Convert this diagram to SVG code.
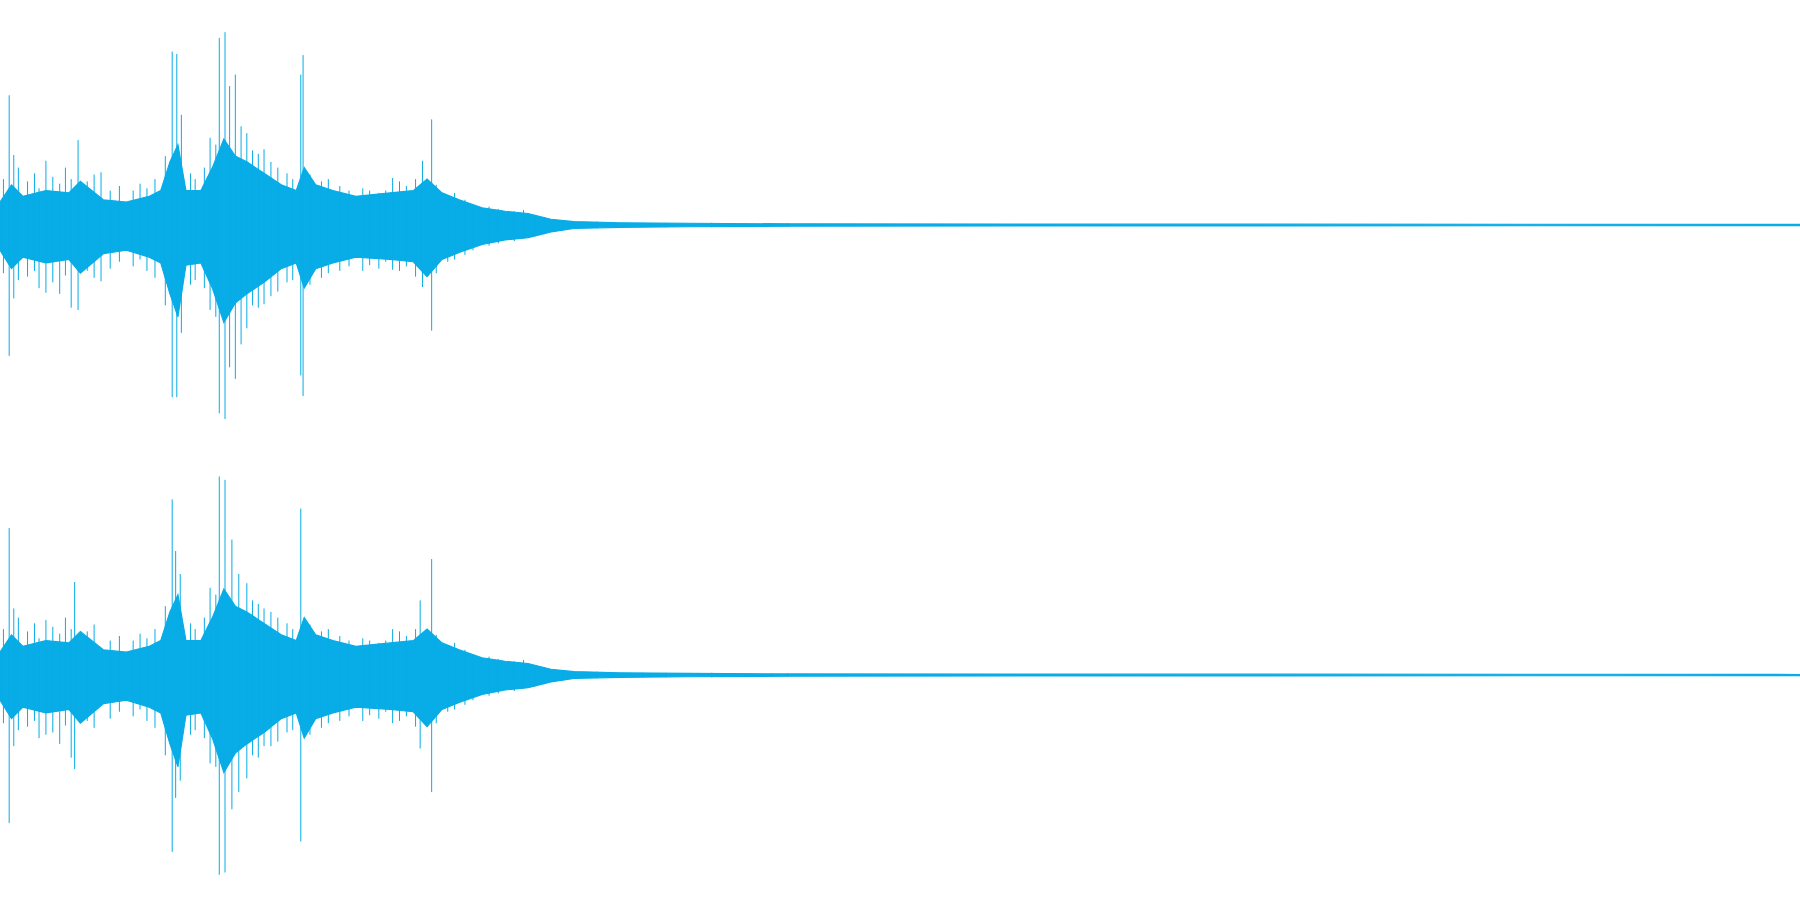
<svg xmlns="http://www.w3.org/2000/svg" width="1800" height="900" viewBox="0 0 1800 900">
<style>
.env{fill:#08ace6;stroke:#08ace6;stroke-width:1;vector-effect:non-scaling-stroke}
.sp{fill:none;stroke:#08ace6;stroke-width:1;vector-effect:non-scaling-stroke}
</style>
<defs>
<path id="env" d="M0,-20 L10,-35 20,-25 40,-30 60,-28 70,-38 90,-22 110,-20 130,-25 140,-30 148,-55 155,-70 162,-30 175,-30 185,-50 195,-75 205,-60 215,-55 230,-45 245,-35 258,-30 265,-50 275,-35 290,-30 310,-25 340,-28 360,-30 372,-40 385,-28 400,-22 420,-15 440,-12 460,-10 480,-5 500,-3 540,-2 600,-1.5 690,-1 1568,-0.5 L1568,0.5 690,1 600,1.5 540,2 500,3 480,6 460,11 440,13 420,17 400,24 385,30 372,45 360,32 340,30 310,28 290,33 275,38 265,55 258,33 245,38 230,50 215,60 205,68 195,85 185,55 175,33 162,35 155,80 148,60 140,33 130,28 110,22 90,25 70,42 60,30 40,33 20,28 10,38 0,22 Z"/>
<path id="tex" class="sp" d="M3,-40V42 M16,-50V48 M24,-38V45 M30,-45V40 M34,-32V55 M46,-42V50 M52,-36V60 M57,-50V44 M62,-40V72 M76,-38V40 M82,-44V46 M96,-30V38 M104,-34V32 M116,-30V36 M122,-36V30 M128,-32V40 M135,-40V46 M144,-60V70 M166,-45V52 M170,-40V48 M178,-50V55 M188,-70V80 M215,-80V90 M220,-65V70 M225,-62V72 M236,-55V62 M242,-50V58 M250,-45V50 M255,-40V48 M270,-44V52 M280,-38V46 M286,-40V42 M296,-34V40 M304,-30V36 M316,-32V40 M322,-30V35 M330,-28V38 M336,-30V32 M348,-38V40 M354,-34V36 M362,-40V45 M380,-35V42 M390,-26V32 M396,-28V30 M405,-22V26 M412,-18V22 M426,-16V18 M434,-14V16 M448,-12V14 M456,-13V12 M466,-8V10 M474,-7V8 M490,-4V5 M520,-3V3 M560,-2V2 M580,-2V2 M620,-2V2 M650,-1.5V1.5 M672,-1.5V1.5 M686,-1.5V1.5"/>
</defs>
<g transform="scale(1.148)">
<use href="#env" class="env" transform="translate(0,196)"/>
<use href="#tex" transform="translate(0,196)"/>
<path class="sp" d="M8,83V310 M150,45V346 M154,47V346 M191,33V360 M196,28V365 M205,65V330 M262,65V327 M264,48V345 M376,104V288 M68,122V270 M40,140V255 M88,150V245 M183,120V270 M200,75V320 M230,130V265 M342,155V235 M368,140V250 M12,135V260 M158,100V290 M186,150V240 M210,110V300"/>
<use href="#env" class="env" transform="translate(0,588)"/>
<use href="#tex" transform="translate(0,588)"/>
<path class="sp" d="M8,460V717 M150,435V742 M153,480V695 M191,415V762 M196,418V760 M202,470V705 M262,443V733 M376,487V690 M65,507V670 M183,512V665 M366,523V652 M12,530V650 M40,540V640 M157,500V680 M208,500V690 M230,530V650 M342,548V630"/>
</g>
</svg>
